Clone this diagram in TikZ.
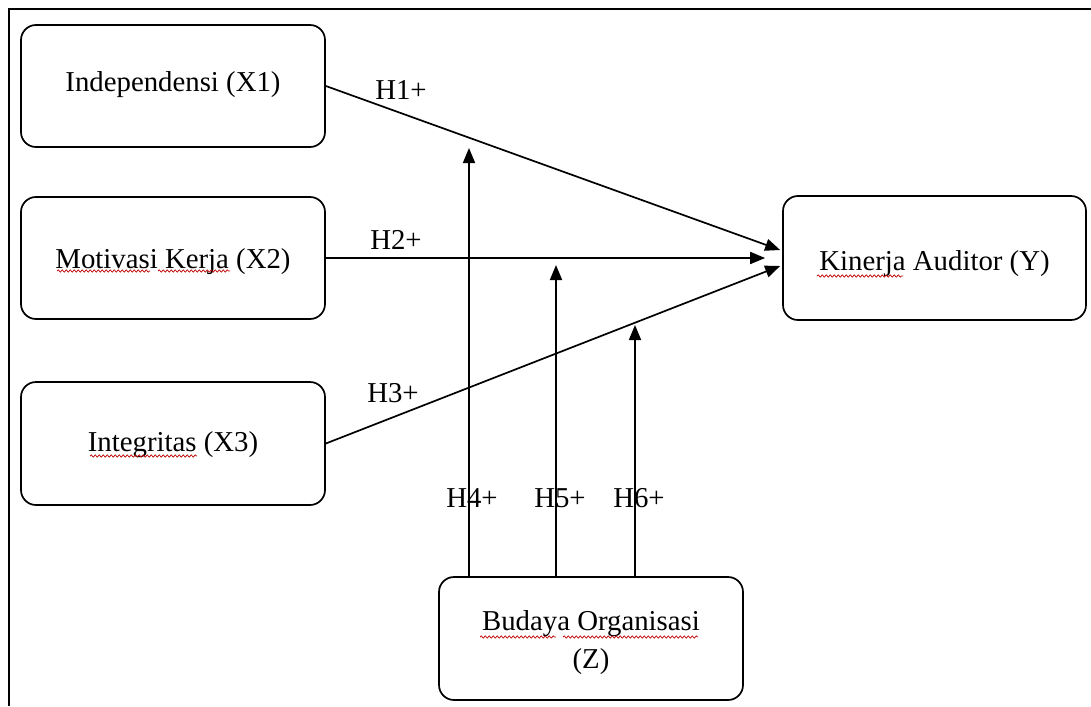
\documentclass[tikz,border=0pt]{standalone}
\usepackage{fontspec}
\setmainfont{Liberation Serif}
\usetikzlibrary{arrows.meta,decorations.pathmorphing}
\begin{document}
\begin{tikzpicture}[x=1pt,y=-1pt,
  box/.style={draw, line width=1.7pt, rounded corners=15pt, minimum width=304pt,
    minimum height=122pt, inner sep=0pt},
  boxtxt/.style={align=center, inner sep=0pt, font=\fontsize{28.8}{38}\selectfont},
  lbl/.style={font=\fontsize{28.8}{34}\selectfont, inner sep=0pt},
  conn/.style={line width=1.7pt, -{Triangle[length=15pt,width=12pt]}},
  spell/.style={draw=red!75!black, line width=0.7pt, decorate,
    decoration={snake, amplitude=1.1pt, segment length=4pt}}]
\useasboundingbox (0,0) rectangle (1091,706);
% frame
\draw[line width=2pt] (9,706) -- (9,9.5) -- (1091,9.5);
% boxes
\node[box, label={[boxtxt, name=X1t, yshift=1pt]center:Independensi (X1)}] (X1) at (173,86) {};
\node[box, label={[boxtxt, name=X2t, yshift=-4pt]center:Motivasi Kerja (X2)}] (X2) at (173,258) {};
\node[box, minimum height=123pt, label={[boxtxt, name=X3t, yshift=-1pt]center:Integritas (X3)}] (X3) at (173,443.5) {};
\node[box, minimum width=303pt, minimum height=124pt,
  label={[boxtxt, name=Yt, yshift=-6pt]center:Kinerja Auditor (Y)}] (Y) at (934.5,258) {};
\node[box, minimum height=123pt,
  label={[boxtxt, name=Zt, yshift=-4pt]center:Budaya Organisasi\\(Z)}] (Z) at (591,638.5) {};
% direct effects
\draw[conn] (X1.east) -- ([xshift=-2pt,yshift=8pt]Y.west);
\draw[conn] (X2.east) -- ([xshift=-17pt]Y.west);
\draw[conn] (X3.east) -- ([xshift=-2pt,yshift=-8pt]Y.west);
% moderation
\coordinate (m4) at (469,148);
\coordinate (m5) at (556,265);
\coordinate (m6) at (635,325);
\draw[conn] (Z.north -| m4) -- (m4);
\draw[conn] (Z.north -| m5) -- (m5);
\draw[conn] (Z.north -| m6) -- (m6);
% labels
\node[lbl] (h1) at (401,90) {H1+};
\node[lbl] (h2) at (396,240) {H2+};
\node[lbl] (h3) at (393,393) {H3+};
\node[lbl] (h4) at (472,498) {H4+};
\node[lbl] (h5) at (560,498) {H5+};
\node[lbl] (h6) at (639,498) {H6+};
% spell-check underlines
\draw[spell] (57,271) -- (150,271);
\draw[spell] (158,271) -- (230,271);
\draw[spell] (90,456) -- (197,456);
\draw[spell] (817,276) -- (903,276);
\draw[spell] (480,637) -- (556,637);
\draw[spell] (563,637) -- (698,637);
\end{tikzpicture}
\end{document}
